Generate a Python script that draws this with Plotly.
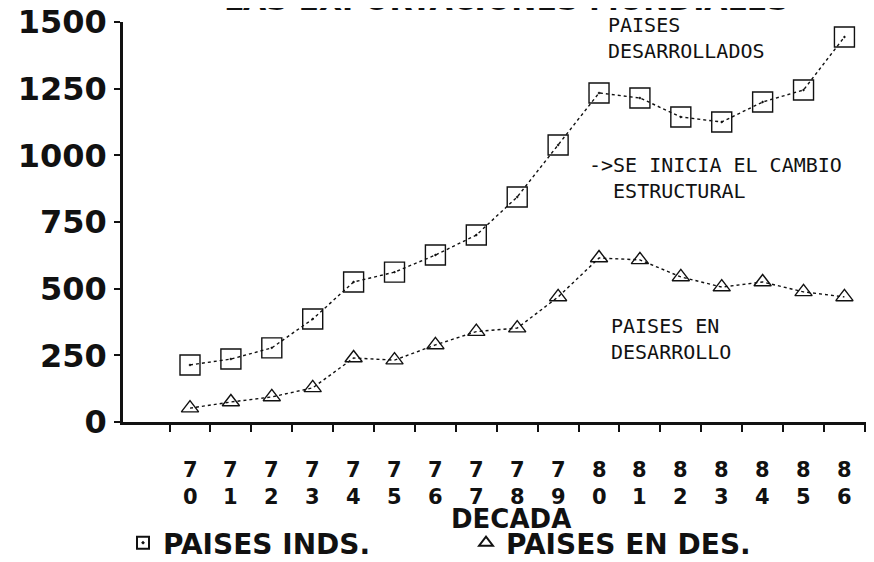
import plotly.graph_objects as go

# ---- data ----
years = ["70", "71", "72", "73", "74", "75", "76", "77", "78",
         "79", "80", "81", "82", "83", "84", "85", "86"]
paises_desarrollados = [214, 236, 278, 386, 525, 562, 626, 701, 844,
                        1039, 1234, 1215, 1144, 1125, 1200, 1245, 1444]
paises_en_desarrollo = [52, 75, 94, 128, 240, 232, 289, 339, 352,
                        469, 615, 608, 544, 506, 525, 488, 469]
y_ticks = [0, 250, 500, 750, 1000, 1250, 1500]
y_ticklabels = ["0", "250", "500", "750", "1000", "1250", "1500"]
series_names = ["PAISES INDS.", "PAISES EN DES."]
x_title = "DECADA"
chart_title = "LAS EXPORTACIONES MUNDIALES"

# ---- geometry: page pixels (the page body adds an 8px offset) ----
OFF = 8
W_PAGE, H_PAGE = 874, 562
W, H = W_PAGE - OFF, H_PAGE - OFF
PL, PR, PT, PB = 123, 870, 22, 422          # plot area in page pixels
L, R, T, B = PL - OFF, W_PAGE - PR, PT - OFF, H_PAGE - PB
PW, PH = PR - PL, PB - PT


def px(xp):
    return (xp - PL) / PW


def py(yp):
    return (PB - yp) / PH


idx = list(range(len(years)))
BIG = "DejaVu Sans"
MONO = "DejaVu Sans Mono"
INK = "#111111"

fig = go.Figure()

fig.add_trace(go.Scatter(
    x=idx, y=paises_desarrollados, mode="lines+markers", showlegend=False,
    line=dict(color=INK, width=1.4, dash="dot"),
    marker=dict(symbol="square-open-dot", size=20, color=INK,
                line=dict(color=INK, width=1.4)),
))
fig.add_trace(go.Scatter(
    x=idx, y=paises_en_desarrollo, mode="lines+markers", showlegend=False,
    line=dict(color=INK, width=1.4, dash="dot"),
    marker=dict(symbol="triangle-up-open", size=15, color=INK,
                line=dict(color=INK, width=1.4)),
))
# legend-only entries (markers only, as in the original)
fig.add_trace(go.Scatter(
    x=[None], y=[None], mode="markers", name=series_names[0],
    marker=dict(symbol="square-open-dot", size=14, color=INK,
                line=dict(color=INK, width=1.2)),
))
fig.add_trace(go.Scatter(
    x=[None], y=[None], mode="markers", name=series_names[1],
    marker=dict(symbol="triangle-up-open", size=14, color=INK,
                line=dict(color=INK, width=1.2)),
))

annotations = []
# two-line x tick labels (decade digits stacked)
for i, yr in enumerate(years):
    annotations.append(dict(
        x=i, xref="x", y=py(483), yref="paper", text=yr[0] + "<br>" + yr[1],
        showarrow=False, xanchor="center", yanchor="middle", borderpad=0,
        font=dict(family=BIG, size=21, color=INK, weight="bold"),
    ))
# x axis title
annotations.append(dict(
    x=px(511), xref="paper", y=py(519), yref="paper", text=x_title,
    showarrow=False, xanchor="center", yanchor="middle", borderpad=0,
    font=dict(family=BIG, size=26, color=INK, weight="bold"),
))
# title, cut off by the top edge as in the original scan
annotations.append(dict(
    x=px(507), xref="paper", y=py(19), yref="paper", text=chart_title,
    showarrow=False, xanchor="center", yanchor="bottom",
    font=dict(family=BIG, size=30, color=INK, weight="bold"),
))
# in-plot notes (two lines each)
notes = [
    ("PAISES<br>DESARROLLADOS", 607, 38),
    ("->SE INICIA EL CAMBIO<br>  ESTRUCTURAL", 588, 178),
    ("PAISES EN<br>DESARROLLO", 610, 339),
]
for txt, xp, yp in notes:
    annotations.append(dict(
        x=px(xp), xref="paper", y=py(yp), yref="paper", text=txt,
        showarrow=False, xanchor="left", yanchor="middle", align="left",
        borderpad=0,
        font=dict(family=MONO, size=20, color=INK),
    ))

fig.update_layout(
    width=W, height=H,
    margin=dict(l=L, r=R, t=T, b=B, pad=0, autoexpand=False),
    paper_bgcolor="white", plot_bgcolor="white",
    font=dict(family=BIG, color=INK),
    xaxis=dict(
        range=[-1.638, 16.625], showgrid=False, zeroline=False,
        showline=True, linecolor=INK, linewidth=2.5,
        tickmode="array", tickvals=idx, ticks="", showticklabels=False,
        minor=dict(tickmode="array", tickvals=[i - 0.5 for i in range(len(years) + 1)],
                   ticks="outside", ticklen=7, tickwidth=2, tickcolor=INK),
    ),
    yaxis=dict(
        range=[0, 1500], showgrid=False, zeroline=False,
        showline=True, linecolor=INK, linewidth=2.5,
        tickmode="array", tickvals=y_ticks, ticktext=y_ticklabels,
        ticks="outside", ticklen=6, tickwidth=2, tickcolor=INK,
        ticklabelstandoff=1, ticklabeloverflow="allow",
        tickfont=dict(family=BIG, size=32, color=INK, weight="bold"),
    ),
    legend=dict(
        orientation="h", x=px(123), xanchor="left", y=py(568), yanchor="bottom",
        font=dict(family=BIG, size=28, color=INK, weight="bold"),
        entrywidth=298, entrywidthmode="pixels", itemsizing="constant",
        bgcolor="rgba(0,0,0,0)", borderwidth=0,
    ),
    annotations=annotations,
)

fig.write_html("out.html")
